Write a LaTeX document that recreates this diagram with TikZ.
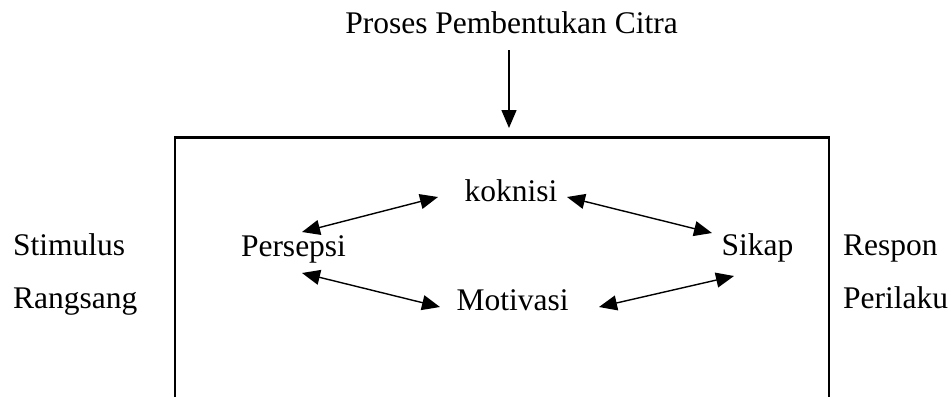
\documentclass[tikz,border=0pt]{standalone}
\usepackage{fontspec}
\setmainfont{Liberation Serif}
\usetikzlibrary{arrows.meta}
\tikzset{
  lbl/.style={font=\fontsize{31.5}{36}\selectfont, inner sep=0pt, anchor=base},
  lblw/.style={lbl, anchor=base west},
  dbl/.style={line width=1.4pt, {Triangle[length=18pt,width=15pt]}-{Triangle[length=18pt,width=15pt]}},
  sgl/.style={line width=1.4pt, -{Triangle[length=18pt,width=15pt]}},
  frame/.style={line width=2.8pt}
}
\begin{document}
\begin{tikzpicture}[x=1pt,y=-1pt]
\useasboundingbox (0,0) rectangle (951,397);
% labels
\node[lbl] (title) at (511.5,33) {Proses Pembentukan Citra};
\node[lbl] (kog) at (511,201) {koknisi};
\node[lbl] (per) at (293.5,256) {Persepsi};
\node[lbl] (sik) at (757.5,255) {Sikap};
\node[lbl] (mot) at (512.5,310) {Motivasi};
\node[lblw] (sti) at (13,255) {Stimulus};
\node[lblw] (ran) at (13,308) {Rangsang};
\node[lblw] (res) at (843,255) {Respon};
\node[lblw] (pri) at (843,308) {Perilaku};
% frame (open at bottom)
\coordinate (fbl) at (175,397);
\coordinate (ftl) at (175,137.5);
\coordinate (ftr) at (829,137.5);
\coordinate (fbr) at (829,397);
\draw[frame] (fbl) -- (ftl) -- (ftr) -- (fbr);
% arrow endpoints
\coordinate (t1) at (509,50);
\coordinate (t2) at (509,128);
\coordinate (kp1) at (438,197);
\coordinate (kp2) at (302,232);
\coordinate (ks1) at (567,197);
\coordinate (ks2) at (712,233);
\coordinate (pm1) at (302,273);
\coordinate (pm2) at (440,307);
\coordinate (ms1) at (599,307);
\coordinate (ms2) at (734,276);
\draw[sgl] (t1) -- (t2);
\draw[dbl] (kp1) -- (kp2);
\draw[dbl] (ks1) -- (ks2);
\draw[dbl] (pm1) -- (pm2);
\draw[dbl] (ms1) -- (ms2);
\end{tikzpicture}
\end{document}
